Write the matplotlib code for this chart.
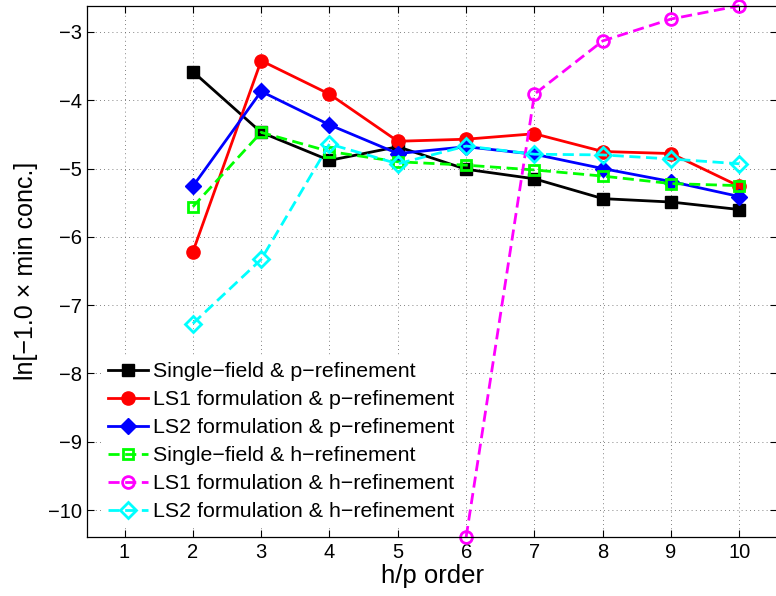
import matplotlib
matplotlib.use("Agg")
import matplotlib.pyplot as plt
import numpy as np

plt.rcParams['font.family'] = ['Liberation Sans', 'DejaVu Sans']

orders = [2, 3, 4, 5, 6, 7, 8, 9, 10]
orders_ls1_h = [6, 7, 8, 9, 10]

single_p = [-3.58, -4.47, -4.88, -4.68, -5.01, -5.15, -5.44, -5.49, -5.60]
ls1_p = [-6.22, -3.42, -3.91, -4.60, -4.57, -4.49, -4.75, -4.78, -5.26]
ls2_p = [-5.26, -3.87, -4.36, -4.78, -4.68, -4.79, -5.00, -5.19, -5.41]
single_h = [-5.56, -4.47, -4.75, -4.90, -4.95, -5.02, -5.11, -5.22, -5.25]
ls1_h = [-10.395, -3.91, -3.13, -2.81, -2.615]
ls2_h = [-7.27, -6.33, -4.64, -4.93, -4.67, -4.79, -4.80, -4.86, -4.93]

labels = ["Single\u2212field & p\u2212refinement",
          "LS1 formulation & p\u2212refinement",
          "LS2 formulation & p\u2212refinement",
          "Single\u2212field & h\u2212refinement",
          "LS1 formulation & h\u2212refinement",
          "LS2 formulation & h\u2212refinement"]

xticks = list(range(1, 11))
yticks = list(range(-10, -2))

fig = plt.figure(figsize=(7.76, 5.96), dpi=100)
W, H = 776, 596
ax = fig.add_axes([87.3 / W, (H - 537) / H, (777 - 87.3) / W, (537 - 5.7) / H])

lw = 2.0
dash = (0, (4, 2))
ax.plot(orders, single_p, color='black', lw=lw, marker='s', ms=8,
        mfc='black', mec='black', label=labels[0], clip_on=False)
ax.plot(orders, ls1_p, color='red', lw=lw, marker='o', ms=9.5,
        mfc='red', mec='red', label=labels[1], clip_on=False)
ax.plot(orders, ls2_p, color='blue', lw=lw, marker='D', ms=8,
        mfc='blue', mec='blue', label=labels[2], clip_on=False)
ax.plot(orders, single_h, color=(0, 1, 0), lw=lw, ls=dash, marker='s', ms=7,
        mfc='none', mec=(0, 1, 0), mew=2, label=labels[3], clip_on=False)
ax.plot(orders_ls1_h, ls1_h, color=(1, 0, 1), lw=lw, ls=dash, marker='o', ms=8.5,
        mfc='none', mec=(1, 0, 1), mew=2, label=labels[4], clip_on=False)
ax.plot(orders, ls2_h, color=(0, 1, 1), lw=lw, ls=dash, marker='D', ms=8,
        mfc='none', mec=(0, 1, 1), mew=2, label=labels[5], clip_on=False)

ax.set_xlim(0.455, 10.55)
ax.set_ylim(-10.395, -2.615)
ax.set_xticks(xticks)
ax.set_yticks(yticks)
ax.set_yticklabels([f"\u2212{abs(v)}" for v in yticks])
ax.tick_params(direction='in', length=5, width=0.8, top=True, right=True,
               labelsize=14.5, pad=4)
for s in ax.spines.values():
    s.set_linewidth(0.9)
ax.grid(True, color='0.35', lw=0.6, ls=(0, (1, 4)))
ax.set_axisbelow(True)

ax.set_xlabel("h/p order", fontsize=18.5, labelpad=2)
ax.set_ylabel("ln[\u22121.0 \u00d7 min conc.]", fontsize=18, labelpad=7)

leg = ax.legend(loc='upper left', bbox_to_anchor=((102 - 87.3) / 689.7, (537 - 356) / 531.3),
                borderaxespad=0, borderpad=0.3, frameon=True, fancybox=False,
                fontsize=15.4, handlelength=1.85, handletextpad=0.25,
                labelspacing=0.42)
leg.get_frame().set_edgecolor('none')
leg.get_frame().set_facecolor('white')
leg.get_frame().set_alpha(1)

fig.savefig("out.png", dpi=100)
